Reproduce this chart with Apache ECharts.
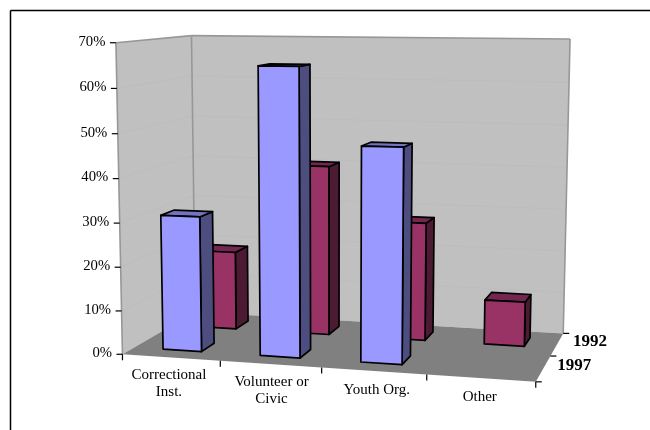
<!DOCTYPE html>
<html><head><meta charset="utf-8">
<style>html,body{margin:0;padding:0;background:#fff}#c{width:650px;height:430px}</style>
<script src="https://cdn.jsdelivr.net/npm/echarts@6/dist/echarts.min.js"></script>
</head><body><div id="c"></div>
<script>
const categories = ['Correctional\nInst.', 'Volunteer or\nCivic', 'Youth Org.', 'Other'];
const years = ['1997', '1992'];
const values1997 = [31, 65, 48, null];
const values1992 = [18.8, 40.3, 27.8, 10.4];
const yTicks = [0, 10, 20, 30, 40, 50, 60, 70];

const FONT = '"Liberation Serif","Times New Roman",serif';
const C = {wall:'#C0C0C0', floor:'#808080', edge:'#979797', grid:'#BDBDBD', ink:'#000',
  s1997:['#9999FF','#4D4D80','#7373BF'], s1992:['#993366','#4D1A33','#732650']};
// depth extents of each row on the floor, and the band share of a bar
const ROW = {'1997':[0.15,0.33], '1992':[0.665,0.86]};
const BAND = [0.30,0.70];
const GRID = {left:120, top:43, width:420, height:310};
const CAT_LABEL_NUDGE = [[-2,26],[1,26.5],[3,19],[-1,19]];

// Perspective camera fitted to the box corners
const FIT = [
 [0,0,0,122.7,354],[1,0,0,535.7,381.7],[1,1,0,563.3,333.3],[0,1,0,195,312],
 [0,0,1,115.7,42.7],[0,1,1,191.7,35.7],[1,1,1,570,39],[0.5,0,0,321.7,368]];
function solveCamera(pts){
  const rows=[], rhs=[];
  pts.forEach(([u,w,v,x,y])=>{
    rows.push([u,w,v,1,0,0,0,0,-x*u,-x*w,-x*v]); rhs.push(x);
    rows.push([0,0,0,0,u,w,v,1,-y*u,-y*w,-y*v]); rhs.push(y);
  });
  const n=11, A=[];
  for(let i=0;i<n;i++){A[i]=[];for(let j=0;j<=n;j++){let s=0;
    rows.forEach((r,k)=>{s+=r[i]*(j<n?r[j]:rhs[k]);});A[i][j]=s;}}
  for(let i=0;i<n;i++){let p=i;for(let k=i+1;k<n;k++)if(Math.abs(A[k][i])>Math.abs(A[p][i]))p=k;
    [A[i],A[p]]=[A[p],A[i]];
    for(let k=0;k<n;k++){if(k===i)continue;const f=A[k][i]/A[i][i];for(let j=i;j<=n;j++)A[k][j]-=f*A[i][j];}}
  return A.map((r,i)=>r[n]/r[i]);
}
const M = solveCamera(FIT);
function project(u,w,v){
  const d=M[8]*u+M[9]*w+M[10]*v+1;
  return [(M[0]*u+M[1]*w+M[2]*v+M[3])/d,(M[4]*u+M[5]*w+M[6]*v+M[7])/d];
}
// axis scales -> unit cube
function unit(api,cat,val){
  const p=api.coord([cat,val]), band=api.size([1,0])[0];
  return {u:(p[0]-band/2-GRID.left)/GRID.width, band:band/GRID.width, v:(GRID.top+GRID.height-p[1])/GRID.height};
}
const poly=(points,fill,stroke,lw)=>({type:'polygon',shape:{points},style:{fill,stroke:stroke||'none',lineWidth:lw||0,lineJoin:'round'}});
const line=(a,b,stroke,lw)=>({type:'line',shape:{x1:a[0],y1:a[1],x2:b[0],y2:b[1]},style:{stroke,lineWidth:lw}});
const label=(x,y,text,align,extra)=>({type:'text',style:Object.assign({x,y,text,textAlign:align,textVerticalAlign:'middle',fill:'#000',font:'13px '+FONT},extra||{})});

function renderBox(api){
  const children=[];
  const wl=[project(0,1,0),project(1,1,0),project(1,1,1),project(0,1,1)];
  const ws=[project(0,0,0),project(0,1,0),project(0,1,1),project(0,0,1)];
  children.push(poly(wl,C.wall),poly(ws,C.wall));
  yTicks.forEach(t=>{ if(t===0||t===70) return;
    const v=unit(api,0,t).v;
    children.push(line(project(0,0,v),project(0,1,v),C.grid,1),line(project(0,1,v),project(1,1,v),C.grid,1));
  });
  children.push(poly([project(0,0,0),project(1,0,0),project(1,1,0),project(0,1,0)],C.floor));
  [[[0,0,0],[0,0,1]],[[0,0,1],[0,1,1]],[[0,1,1],[1,1,1]],[[1,1,1],[1,1,0]],[[0,1,1],[0,1,0]]].forEach(([a,b])=>{
    children.push(line(project(...a),project(...b),C.edge,1.6));
  });
  return {type:'group',children};
}
function renderAxes(api){
  const children=[];
  yTicks.forEach(t=>{
    const v=unit(api,0,t).v, p=project(0,0,v);
    children.push(line([p[0]-6,p[1]],p,'#000',1.2));
    children.push(label(p[0]-10.5,p[1]-1,t+'%','right',{font:'14.7px '+FONT}));
  });
  categories.forEach((c,i)=>{
    const U=unit(api,i,0), a=project(U.u,0,0);
    children.push(line(a,[a[0],a[1]+6],'#000',1.2));
    if(i===categories.length-1){const z=project(1,0,0);children.push(line(z,[z[0],z[1]+6],'#000',1.2));}
    const b=project(U.u+U.band/2,0,0), n=CAT_LABEL_NUDGE[i];
    children.push(label(b[0]+n[0],b[1]+n[1],c,'center',{font:'15px '+FONT,lineHeight:17}));
  });
  // depth axis
  [[1,0,0],[1,0.5,0],[1,1,0]].forEach(q=>{const p=project(...q);children.push(line(p,[p[0]+6,p[1]],'#000',1.2));});
  const p1=project(1,0.25,0), p2=project(1,0.75,0);
  children.push(label(p1[0]+14,p1[1]-2.5,years[0],'left',{font:'bold 17px '+FONT}));
  children.push(label(p2[0]+16,p2[1]-3,years[1],'left',{font:'bold 17px '+FONT}));
  return {type:'group',children};
}
function barRenderer(year,cols){
  return function(params,api){
    const val=api.value(1), cat=api.value(0);
    if(val==null||isNaN(val)) return;
    const U=unit(api,cat,val), [w0,w1]=ROW[year];
    const u0=U.u+U.band*BAND[0], u1=U.u+U.band*BAND[1], v=U.v;
    const k='#000', lw=1.7;
    const fb0=project(u0,w0,0), fb1=project(u1,w0,0), ft0=project(u0,w0,v), ft1=project(u1,w0,v);
    const bb1=project(u1,w1,0), bt0=project(u0,w1,v), bt1=project(u1,w1,v);
    return {type:'group',children:[
      poly([fb1,bb1,bt1,ft1],cols[1],k,lw),
      poly([ft0,ft1,bt1,bt0],cols[2],k,lw),
      poly([fb0,fb1,ft1,ft0],cols[0],k,lw)
    ]};
  };
}
const chart=echarts.init(document.getElementById('c'),null,{renderer:'canvas'});
chart.setOption({
  animation:false,
  backgroundColor:'#fff',
  graphic:[
    {type:'line',silent:true,shape:{x1:10.5,y1:10.5,x2:650,y2:10.5},style:{stroke:'#000',lineWidth:1.5}},
    {type:'line',silent:true,shape:{x1:10.5,y1:10.5,x2:10.5,y2:430},style:{stroke:'#000',lineWidth:1.5}}
  ],
  grid:Object.assign({},GRID,{containLabel:false}),
  xAxis:{type:'category',data:categories,show:false,boundaryGap:true},
  yAxis:{type:'value',min:0,max:70,interval:10,show:false},
  series:[
    {type:'custom',name:'box',clip:false,silent:true,z:1,renderItem:(p,api)=>renderBox(api),data:[[0,0]]},
    {type:'custom',name:'1992',clip:false,z:2,renderItem:barRenderer('1992',C.s1992),encode:{x:0,y:1},data:values1992.map((v,i)=>[i,v])},
    {type:'custom',name:'1997',clip:false,z:3,renderItem:barRenderer('1997',C.s1997),encode:{x:0,y:1},data:values1997.map((v,i)=>[i,v])},
    {type:'custom',name:'axes',clip:false,silent:true,z:4,renderItem:(p,api)=>renderAxes(api),data:[[0,0]]}
  ]
});
</script></body></html>
